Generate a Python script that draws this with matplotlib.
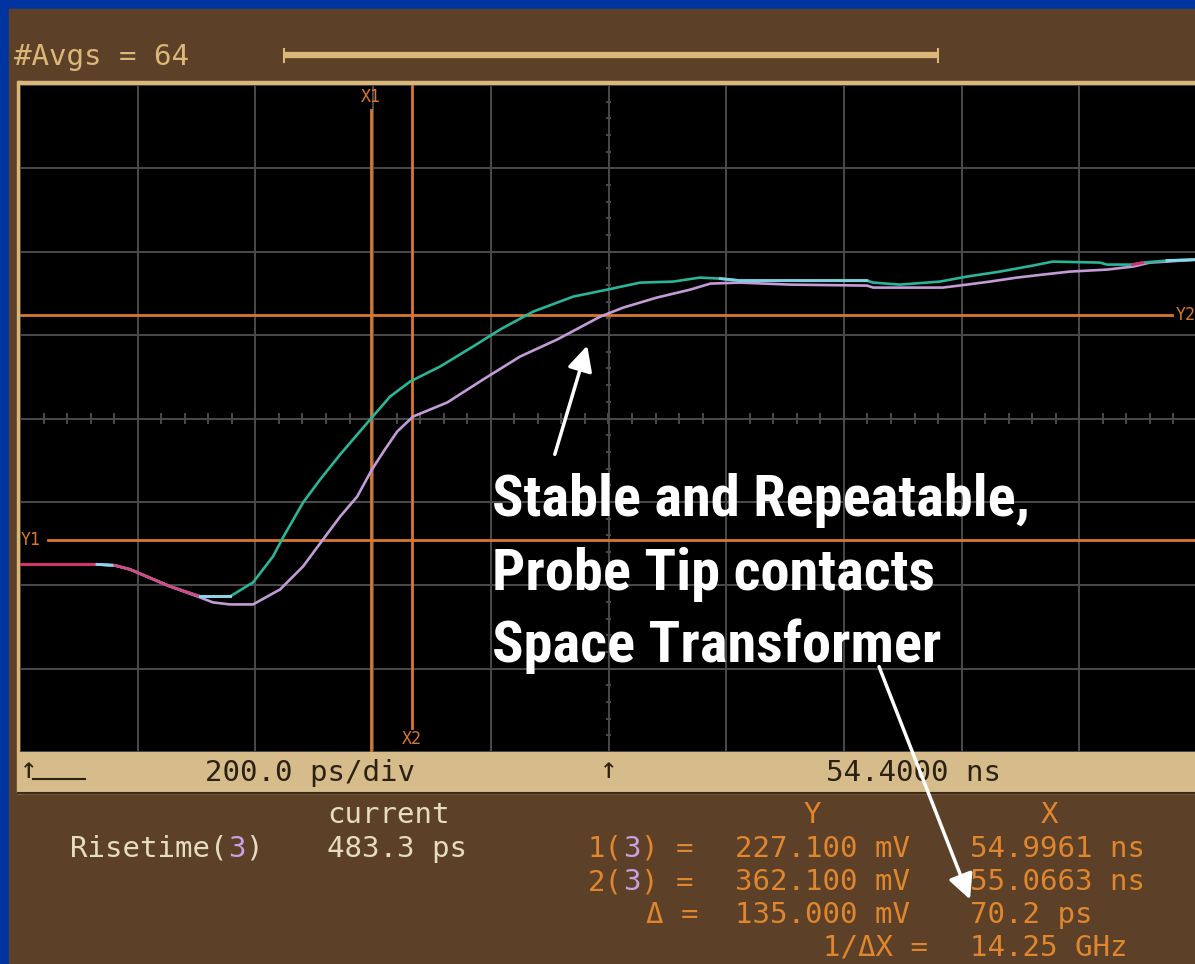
import numpy as np
import matplotlib.pyplot as plt
from matplotlib import font_manager
from matplotlib.collections import LineCollection

# Timebase / vertical settings of the scope screen
t_left_ns = 54.4
t_per_div_ns = 0.2
v_center_mv = 300.0
v_per_div_mv = 50.0
n_xdiv, n_ydiv = 10, 8

# Channel 3 waveforms, two acquisitions (time in ns, voltage in mV)
green_t = [54.400, 54.531, 54.561, 54.587, 54.655, 54.706, 54.757, 54.796, 54.830,
           54.847, 54.881, 54.910, 54.944, 54.995, 55.029, 55.063, 55.114, 55.170,
           55.216, 55.272, 55.340, 55.398, 55.454, 55.510, 55.555, 55.590, 55.623,
           55.839, 55.850, 55.895, 55.963, 56.009, 56.065, 56.121, 56.155, 56.235,
           56.247, 56.291, 56.308, 56.349, 56.400]
green_v = [212.5, 212.5, 211.9, 209.5, 199.3, 193.3, 193.3, 201.7, 217.3,
           228.7, 249.6, 263.4, 278.4, 299.4, 313.2, 322.2, 331.2, 343.2,
           353.4, 364.1, 373.1, 377.3, 381.5, 382.1, 384.5, 383.9, 382.7,
           382.7, 381.5, 380.3, 382.1, 385.1, 388.1, 391.7, 394.1, 393.5,
           392.3, 392.3, 393.5, 394.7, 395.3]

lilac_t = [54.400, 54.531, 54.561, 54.587, 54.655, 54.706, 54.728, 54.757, 54.796,
           54.842, 54.881, 54.915, 54.944, 54.973, 54.998, 55.020, 55.041, 55.068,
           55.126, 55.187, 55.250, 55.313, 55.386, 55.425, 55.482, 55.539, 55.573,
           55.623, 55.708, 55.839, 55.850, 55.968, 56.009, 56.048, 56.094, 56.138,
           56.184, 56.247, 56.291, 56.320, 56.349, 56.400]
lilac_v = [212.5, 212.5, 211.9, 209.5, 199.3, 192.7, 189.7, 188.5, 188.5,
           197.5, 211.3, 227.5, 241.2, 253.2, 269.4, 281.4, 292.2, 301.2,
           309.6, 323.4, 337.2, 347.4, 361.1, 366.5, 372.5, 377.3, 380.9,
           381.5, 380.3, 379.7, 378.5, 378.5, 380.3, 382.1, 384.5, 386.3,
           388.1, 389.3, 391.1, 393.5, 394.1, 395.3]

# Where both acquisitions overlap the display mixes the colours
overlap_spans = [(54.400, 54.531, "#d8306c"), (54.531, 54.561, "#8ad8ec"),
                 (54.561, 54.706, "#d04a86"), (54.706, 54.757, "#8ad8ec"),
                 (55.590, 55.839, "#7fd0e2"), (56.291, 56.320, "#d8306c"),
                 (56.320, 56.400, "#8ad8ec")]

# Cursor readout and measurement
x_cursors_ns = [54.9961, 55.0663]
y_cursors_mv = [227.100, 362.100]
risetime_ps = 483.3
n_avgs = 64

note = ["Stable and Repeatable,", "Probe Tip contacts", "Space Transformer"]

BLUE = "#0034a0"
BROWN = "#5c4128"
TAN = "#dcb77a"
STRIP = "#d6bb8b"
STRIP_TXT = "#2b2214"
GRID = "#4b4b4b"
CURSOR = "#d9782d"
ORANGE = "#e0862e"
PURPLE = "#c9a2e0"
CREAM = "#e6dcc2"
GREEN = "#2bb598"
LILAC = "#c39bd6"


def narrow_font():
    # prefer a condensed bold face for the callout text
    names = {f.name for f in font_manager.fontManager.ttflist}
    for cand in ("Liberation Sans Narrow", "Roboto Condensed", "Open Sans Condensed",
                 "DejaVu Sans Condensed", "Noto Sans Condensed"):
        if cand in names:
            return dict(family=[cand, "DejaVu Sans"])
    for f in font_manager.fontManager.ttflist:
        if f.name in ("DejaVu Sans", "Noto Sans", "Open Sans", "Roboto") and \
                str(f.stretch) in ("condensed", "semi-condensed", "75", "87.5"):
            return dict(family=[f.name, "DejaVu Sans"], stretch="condensed")
    return dict(family=["DejaVu Sans"])


W, H = 1195, 964
fig = plt.figure(figsize=(W / 100, H / 100), dpi=100, facecolor=BLUE)

# pixel-space layers: background panel and foreground annotations
bg = fig.add_axes([0, 0, 1, 1], zorder=0)
bg.set_xlim(0, W)
bg.set_ylim(H, 0)
bg.axis("off")
fg = fig.add_axes([0, 0, 1, 1], zorder=3)
fg.set_xlim(0, W)
fg.set_ylim(H, 0)
fg.axis("off")
fg.patch.set_alpha(0)

bg.add_patch(plt.Rectangle((9, 9), W, H, color=BROWN))

MONO = "DejaVu Sans Mono"
FS = 21


def mono(ax, x, y, parts, size=FS):
    # draw monospace text piece by piece so single digits can change colour
    step = 0.602 * size * 100 / 72
    for txt, col in parts:
        ax.text(x, y, txt, color=col, family=MONO, fontsize=size,
                va="center", ha="left")
        x += len(txt) * step


# header: averaging count and record bar
mono(bg, 14, 57, [(f"#Avgs = {n_avgs}", TAN)])
bg.plot([284, 938], [55, 55], color=TAN, lw=4.5, solid_capstyle="butt")
for xe in (284, 938):
    bg.plot([xe, xe], [49, 62], color=TAN, lw=1.5)

# graticule frame and bottom status strip
bg.add_patch(plt.Rectangle((18, 81), W, 4, color=TAN))
bg.add_patch(plt.Rectangle((17, 81), 4, 712, color=TAN))
bg.add_patch(plt.Rectangle((18, 752), W, 41, color=STRIP))
bg.plot([18, W], [793, 793], color="#3a2a18", lw=1.5)

# waveform area
x0, x1, y0, y1 = 20, 1197, 85, 752
ax = fig.add_axes([x0 / W, (H - y1) / H, (x1 - x0) / W, (y1 - y0) / H], zorder=1)
ax.set_facecolor("black")
t_right = t_left_ns + n_xdiv * t_per_div_ns
v_lo = v_center_mv - n_ydiv / 2 * v_per_div_mv
v_hi = v_center_mv + n_ydiv / 2 * v_per_div_mv
ax.set_xlim(t_left_ns, t_right)
ax.set_ylim(v_lo, v_hi)
ax.set_xticks(np.linspace(t_left_ns, t_right, n_xdiv + 1))
ax.set_yticks(np.linspace(v_lo, v_hi, n_ydiv + 1))
ax.grid(color=GRID, lw=1.4)
ax.tick_params(length=0, labelbottom=False, labelleft=False)
for s in ax.spines.values():
    s.set_visible(False)

# minor ticks on the centre cross
t_mid = t_left_ns + n_xdiv / 2 * t_per_div_ns
segs = []
for t in np.arange(t_left_ns, t_right, t_per_div_ns / 5):
    segs.append([(t, v_center_mv - 3), (t, v_center_mv + 3)])
for v in np.arange(v_lo, v_hi, v_per_div_mv / 5):
    segs.append([(t_mid - 0.005, v), (t_mid + 0.005, v)])
ax.add_collection(LineCollection(segs, colors=GRID, lw=1.4))

# cursors
ax.axvline(x_cursors_ns[0], ymax=0.963, color=CURSOR, lw=2)
ax.axvline(x_cursors_ns[1], ymin=0.036, color=CURSOR, lw=2)
ax.axhline(y_cursors_mv[0], xmin=0.024, color=CURSOR, lw=2)
ax.axhline(y_cursors_mv[1], xmax=0.979, color=CURSOR, lw=2)
lbl = dict(color=CURSOR, family=MONO, fontsize=12, va="center")
ax.text(x_cursors_ns[0], 0.982, "X1", transform=ax.get_xaxis_transform(), ha="center", **lbl)
ax.text(x_cursors_ns[1], 0.02, "X2", transform=ax.get_xaxis_transform(), ha="center", **lbl)
ax.text(0.001, y_cursors_mv[0], "Y1", transform=ax.get_yaxis_transform(), ha="left", **lbl)
ax.text(0.982, y_cursors_mv[1], "Y2", transform=ax.get_yaxis_transform(), ha="left", **lbl)

# traces
ax.plot(lilac_t, lilac_v, color=LILAC, lw=1.9)
ax.plot(green_t, green_v, color=GREEN, lw=1.9)
gt = np.array(green_t)
gv = np.array(green_v)
for ta, tb, col in overlap_spans:
    m = (gt >= ta) & (gt <= tb)
    ax.plot(gt[m], gv[m], color=col, lw=2.1)

# status strip text
mono(bg, 20, 770, [("↑", STRIP_TXT)])
bg.plot([33, 85], [779, 779], color=STRIP_TXT, lw=1.5)
mono(bg, 205, 773, [(f"{t_per_div_ns * 1000:.1f} ps/div", STRIP_TXT)])
bg.text(609, 770, "↑", color=STRIP_TXT, family=MONO, fontsize=FS, ha="center", va="center")
mono(bg, 826, 773, [(f"{t_left_ns:.4f} ns", STRIP_TXT)])

# measurement readout
mono(bg, 327, 815, [("current", CREAM)])
mono(bg, 70, 849, [("Risetime(", CREAM), ("3", PURPLE), (")", CREAM)])
mono(bg, 327, 849, [(f"{risetime_ps:.1f} ps", CREAM)])

dy = y_cursors_mv[1] - y_cursors_mv[0]
dx_ps = (x_cursors_ns[1] - x_cursors_ns[0]) * 1000
bg.text(812, 815, "Y", color=ORANGE, family=MONO, fontsize=FS, ha="center", va="center")
bg.text(1050, 815, "X", color=ORANGE, family=MONO, fontsize=FS, ha="center", va="center")
for i, row_y in enumerate((849, 882)):
    mono(bg, 588, row_y, [(f"{i + 1}(", ORANGE), ("3", PURPLE), (") =", ORANGE)])
    mono(bg, 735, row_y, [(f"{y_cursors_mv[i]:.3f} mV", ORANGE)])
    mono(bg, 970, row_y, [(f"{x_cursors_ns[i]:.4f} ns", ORANGE)])
mono(bg, 646, 915, [("Δ =", ORANGE)])
mono(bg, 735, 915, [(f"{dy:.3f} mV", ORANGE)])
mono(bg, 970, 915, [(f"{dx_ps:.1f} ps", ORANGE)])
mono(bg, 823, 948, [("1/ΔX =", ORANGE)])
mono(bg, 970, 948, [(f"{1000 / dx_ps:.2f} GHz", ORANGE)])

# callout text, sized so the first line spans about 538 px
callout_font = narrow_font()
renderer = fig.canvas.get_renderer()
probe = fg.text(0, 0, note[0], fontsize=40, fontweight="bold", **callout_font)
width_px = probe.get_window_extent(renderer).width
probe.remove()
note_fs = min(44, 40 * 538 / width_px)
for line, base in zip(note, (516, 590, 662)):
    fg.text(492, base, line, color="white", fontsize=note_fs, fontweight="bold",
            va="baseline", ha="left", **callout_font)
arrow = dict(arrowstyle="-|>", color="white", lw=2.5, mutation_scale=38)
fg.annotate("", xy=(588, 343), xytext=(554, 457), arrowprops=arrow)
fg.annotate("", xy=(971, 902), xytext=(878, 664), arrowprops=arrow)

fig.savefig("out.png", dpi=100, facecolor=BLUE)
